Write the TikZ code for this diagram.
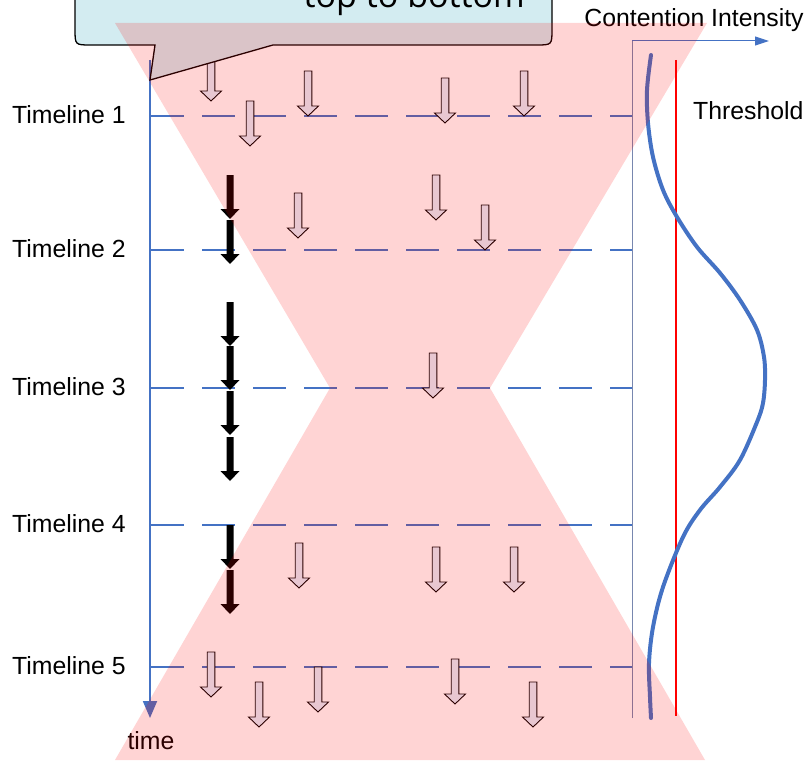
\documentclass[tikz,border=0pt]{standalone}
\usepackage{fontspec}
\setmainfont{Liberation Sans}
\newfontfamily\calloutfont{Open Sans}
\usetikzlibrary{arrows.meta}
\definecolor{axisblue}{RGB}{68,114,196}
\definecolor{framegray}{RGB}{120,135,175}
\definecolor{calloutfill}{RGB}{211,236,241}
\definecolor{hollowfill}{RGB}{228,240,252}
\definecolor{limitred}{RGB}{255,0,0}
\begin{document}
\begin{tikzpicture}[x=1pt,y=-1pt,
  lbl/.style={font=\fontsize{24.8}{29}\selectfont, inner sep=0pt},
  timeline/.style={axisblue, line width=2pt, dash pattern=on 33pt off 18pt},
  hollow arrow/.pic={
    \filldraw[fill=hollowfill, draw=black, line width=0.9pt, line join=miter]
      (-3.8,0) -- (3.8,0) -- (3.8,35) -- (10.5,35) -- (0,45)
      -- (-10.5,35) -- (-3.8,35) -- cycle;},
  solid arrow/.pic={
    \fill[black]
      (-3.5,0) -- (3.5,0) -- (3.5,34) -- (9.5,34) -- (0,44)
      -- (-9.5,34) -- (-3.5,34) -- cycle;},
]
\useasboundingbox (0,0) rectangle (805,760);
\clip (0,0) rectangle (805,760);

% timelines (dashed) and their labels
\foreach \i/\y in {1/116, 2/250, 3/388, 4/525, 5/667} {
  \coordinate (tl\i) at (151,\y);
  \coordinate (tr\i) at (632,\y);
  \draw[timeline] (tl\i) -- (tr\i);
  \node[lbl, anchor=west] (label\i) at (12,\y-1) {Timeline \i};
}

% transactions in the crowded phases
\foreach \x/\y in {211/56, 250/101, 308/71, 445/78, 524/71,
                   298/193, 436/175, 485/205,
                   433/353,
                   299/543, 436/547, 514/547,
                   211/652, 259/682, 318/667, 455/659, 533/682}
  \pic at (\x,\y) {hollow arrow};

% transactions of the single serial thread
\foreach \y in {175, 220, 302, 346, 391, 437, 525, 570}
  \pic at (230,\y) {solid arrow};

% time axis
\coordinate (tstart) at (150,60);
\coordinate (tend) at (150,718);
\draw[axisblue, line width=1.8pt, -{Triangle[width=14pt,length=17pt]}] (tstart) -- (tend);
\node[lbl] (timelabel) at (151,741) {time};

% callout box
\draw[fill=calloutfill, line width=1.3pt, line join=miter]
  (75,-40) -- (75,29) .. controls (75,45) .. (91,45) -- (155,45) -- (150,80)
  -- (273,45) -- (536,45) .. controls (552,45) .. (552,29) -- (552,-40);
\node[font=\calloutfont\fontsize{34}{40}\selectfont, anchor=base east, inner sep=0pt]
  (callouttext) at (525,8) {top to bottom};

% contention chart on the right
\coordinate (corig) at (632,41);
\coordinate (cbottom) at (632,718);
\coordinate (cright) at (769,41);
\draw[framegray, line width=0.9pt] (cbottom) -- (corig);
\draw[axisblue, line width=1pt, -{Triangle[width=9pt,length=14pt]}] (corig) -- (cright);
\node[lbl] (contention) at (694,20) {Contention Intensity};

\coordinate (thtop) at (676,60);
\coordinate (thbottom) at (676,716);
\draw[limitred, line width=1.6pt] (thtop) -- (thbottom);
\node[lbl, anchor=west] (threshold) at (693,111) {Threshold};

\draw[axisblue, line width=4pt, line cap=round]
  plot[smooth, tension=0.55] coordinates {
    (651,55) (647,90) (648,123) (653,157) (663,190) (677,217) (697,247)
    (720,273) (740,300) (757,330) (764,357) (765,380) (763,403) (757,422)
    (740,460) (720,487) (700,510) (683,537) (663,587) (653,627) (649,663)
    (650,697) (651,718)};

% hourglass of contention, laid over everything
\fill[red, opacity=0.17]
  (115,23) -- (707,23) -- (490,388) -- (705,760) -- (115,760) -- (330,388) -- cycle;
\end{tikzpicture}
\end{document}
